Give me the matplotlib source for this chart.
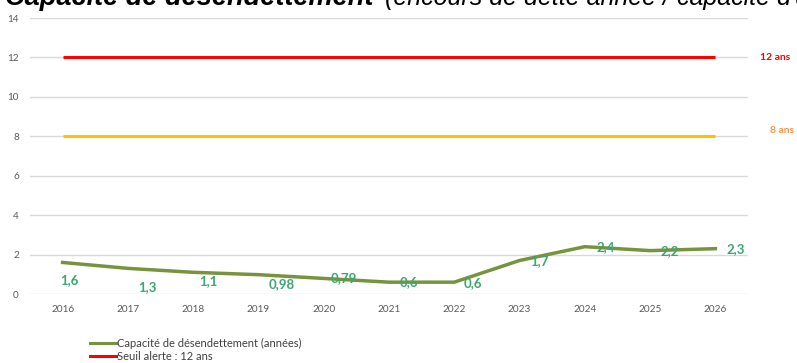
import matplotlib
matplotlib.use("Agg")
import matplotlib.pyplot as plt
from matplotlib.lines import Line2D

years = ["2016", "2017", "2018", "2019", "2020", "2021", "2022", "2023", "2024", "2025", "2026"]
capacite = [1.6, 1.3, 1.1, 0.98, 0.79, 0.6, 0.6, 1.7, 2.4, 2.2, 2.3]
labels = ["1,6", "1,3", "1,1", "0,98", "0,79", "0,6", "0,6", "1,7", "2,4", "2,2", "2,3"]
seuil_alerte = 12
seuil_vigilance = 8
yticks = [0, 2, 4, 6, 8, 10, 12, 14]

# label offsets in pixels (dx, dy)
offsets = [(7, -18), (19, -19), (15, -9), (23, -9), (20, 0), (20, 0),
           (19, -1), (20, -1), (21, 0), (20, 0), (20, 0)]

W, H = 797, 363
fig = plt.figure(figsize=(W / 100, H / 100), dpi=100)
plt.rcParams['font.family'] = ['Lato', 'DejaVu Sans']

ax = fig.add_axes([30 / W, 1 - 294 / H, (748 - 30) / W, (294 - 18) / H])
x = list(range(len(years)))
ax.set_xlim(-0.5, len(years) - 0.5)
ax.set_ylim(0, 14)
ax.set_yticks(yticks)
ax.set_yticklabels([str(v) for v in yticks])
ax.set_xticks(x)
ax.set_xticklabels(years)
ax.grid(axis='y', color='#D9D9D9', linewidth=1)
ax.set_axisbelow(True)
for s in ax.spines.values():
    s.set_visible(False)
ax.tick_params(length=0, colors='#595959', labelsize=7.2)
ax.tick_params(axis='x', pad=8)
ax.tick_params(axis='y', pad=8)

ax.plot(x, [seuil_alerte] * len(x), color='#FF0000', linewidth=2.2, solid_capstyle='butt')
ax.plot(x, [seuil_vigilance] * len(x), color='#FFC000', linewidth=2.2, solid_capstyle='butt')
ax.plot(x, capacite, color='#77933C', linewidth=2.5, solid_joinstyle='round')

for xi, v, lab, (dx, dy) in zip(x, capacite, labels, offsets):
    ax.annotate(lab, (xi, v), xytext=(dx * 0.72, dy * 0.72), textcoords='offset points',
                ha='center', va='center', fontsize=9.5, fontweight='bold', color='#3BA672')

fig.text(775 / W, 1 - 57 / H, "12 ans", color='#FF0000', fontsize=7.5, fontweight='bold',
         ha='center', va='center')
fig.text(782 / W, 1 - 130 / H, "8 ans", color='#F79646', fontsize=7.5, fontweight='bold',
         ha='center', va='center')

# cropped title (only its lower part is visible in the reference)
fig.text(5 / W, 1 - 5 / H, "Capacité de désendettement", fontsize=19.5, style='italic',
         fontweight='bold', family=['Liberation Sans', 'DejaVu Sans'], ha='left', va='baseline',
         color='#000000')
fig.text(385 / W, 1 - 5 / H, "(encours de dette année / capacité d'autofinancement)", fontsize=18,
         style='italic', family=['Liberation Sans', 'DejaVu Sans'], ha='left', va='baseline',
         color='#000000')

# legend
legend_items = [("Capacité de désendettement (années)", '#77933C'),
                ("Seuil alerte : 12 ans", '#FF0000')]
for i, (txt, col) in enumerate(legend_items):
    yy = 1 - (343 + 13 * i) / H
    fig.add_artist(Line2D([90 / W, 116 / W], [yy, yy], color=col, linewidth=2.2,
                          transform=fig.transFigure))
    fig.text(117 / W, yy, txt, fontsize=8, color='#404040', ha='left', va='center')

fig.savefig("out.png", dpi=100)
